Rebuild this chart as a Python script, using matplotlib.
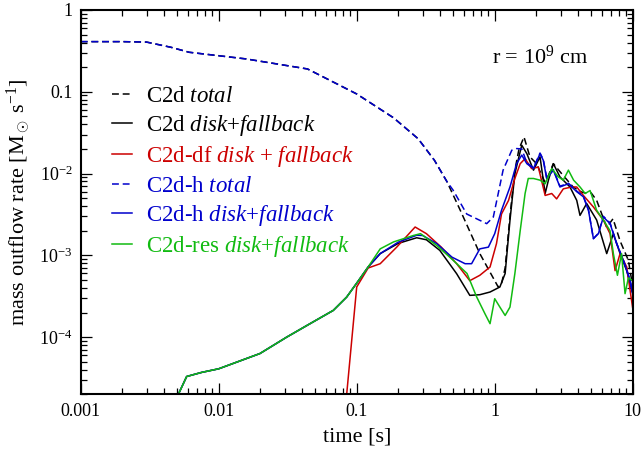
import numpy as np
import matplotlib
matplotlib.use("Agg")
import matplotlib.pyplot as plt
from matplotlib.ticker import FixedLocator, FixedFormatter, LogLocator, NullFormatter

# ---------------- fonts ----------------
plt.rcParams["font.family"] = ["Liberation Serif", "DejaVu Serif"]
plt.rcParams["mathtext.fontset"] = "custom"
plt.rcParams["mathtext.rm"] = "Liberation Serif"
plt.rcParams["mathtext.it"] = "Liberation Serif:italic"

# ---------------- data ----------------
# common early part of the disk+fallback curves (C2d, C2d-h, C2d-res)
t_early = [0.0050, 0.00586, 0.0075, 0.01, 0.0199, 0.0311, 0.0459, 0.0676, 0.0846, 0.103, 0.121]
y_early = [1.86e-5, 3.3e-5, 3.7e-5, 4.1e-5, 6.3e-5, 1.0e-4, 1.46e-4, 2.12e-4, 3.09e-4, 4.9e-4, 7.2e-4]

# C2d total
t_c2d_tot = [0.001, 0.002, 0.003, 0.0045, 0.0061, 0.0158, 0.044, 0.1, 0.185, 0.279, 0.366,
             0.45, 0.561, 0.78, 1.06, 1.12, 1.19, 1.29, 1.40, 1.50, 1.63, 1.80, 2.01, 2.30,
             2.45, 2.66, 3.05, 3.7, 4.2, 4.64, 5.0, 5.48, 6.48, 7.2, 8.1, 9.3, 9.84, 10.0]
y_c2d_tot = [0.41, 0.41, 0.405, 0.35, 0.304, 0.252, 0.19, 0.094, 0.048, 0.0266, 0.0145,
             0.0080, 0.0036, 0.00105, 0.00041, 0.00045, 0.0007, 0.003, 0.011, 0.02, 0.028, 0.016, 0.0132, 0.008,
             0.0095, 0.0132, 0.0100, 0.00685, 0.0060, 0.0057, 0.0058, 0.0047, 0.0022, 0.0028, 0.0015, 0.00087, 0.00049, 0.0004]

# C2d disk+fallback (late part)
t_c2d_df = [0.148, 0.2, 0.272, 0.32, 0.40, 0.53, 0.66, 0.78, 0.925, 1.09, 1.19, 1.29, 1.40,
            1.57, 1.71, 1.91, 2.13, 2.32, 2.45, 2.66, 2.97, 3.51, 3.93, 4.15, 4.64, 5.48,
            6.48, 7.24, 8.1, 9.05, 9.84, 10.0]
y_c2d_df = [1.05e-3, 1.4e-3, 1.64e-3, 1.55e-3, 1.15e-3, 5.96e-4, 3.24e-4, 3.3e-4, 3.56e-4, 4.1e-4,
            6.0e-4, 2.68e-3, 9.98e-3, 2.22e-2, 1.75e-2, 1.1e-2, 1.6e-2, 5.7e-3, 8.3e-3, 1.32e-2,
            9.1e-3, 6.85e-3, 4.7e-3, 3.08e-3, 4.3e-3, 2.7e-3, 1.05e-3, 1.84e-3, 1.05e-3, 6.5e-4,
            3.7e-4, 3.5e-4]

# C2d-df disk + fallback
t_df = [0.083, 0.0846, 0.1, 0.121, 0.148, 0.165, 0.195, 0.265, 0.32, 0.41, 0.53, 0.66, 0.78,
        0.925, 1.03, 1.12, 1.26, 1.40, 1.53, 1.66, 1.85, 2.07, 2.32, 2.59, 2.81, 3.14, 3.61,
        3.93, 4.39, 5.19, 6.13, 6.85, 7.45, 8.1, 9.05, 9.98]
y_df = [1.5e-5, 2.0e-5, 4.1e-4, 7.0e-4, 7.9e-4, 9.5e-4, 1.26e-3, 2.22e-3, 1.84e-3, 1.26e-3,
        7.9e-4, 4.9e-4, 5.7e-4, 7.2e-4, 1.39e-3, 3.2e-3, 4.7e-3, 8.7e-3, 0.0132, 0.0152,
        0.0115, 0.012, 0.0054, 0.0057, 0.0049, 0.0065, 0.00685, 0.00685, 0.0054, 0.0039,
        0.0027, 0.00184, 6.5e-4, 1.05e-3, 7.2e-4, 2.3e-4]

# C2d-h total
t_h_tot = [0.001, 0.002, 0.003, 0.0045, 0.0061, 0.0158, 0.044, 0.1, 0.185, 0.279, 0.366,
           0.45, 0.50, 0.627, 0.875, 0.977, 1.15, 1.33, 1.44, 1.57, 1.71, 1.91, 2.13, 2.25,
           2.38, 2.66, 2.97, 3.42, 3.93, 4.39, 4.78, 5.19, 5.64, 6.13, 6.85, 7.65, 8.55, 9.57, 9.98]
y_h_tot = [0.41, 0.41, 0.405, 0.35, 0.304, 0.252, 0.19, 0.094, 0.048, 0.0266, 0.0145,
           0.0080, 0.00625, 0.0032, 0.00244, 0.00294, 0.011, 0.0193, 0.0202, 0.020, 0.0135,
           0.0118, 0.0178, 0.0148, 0.0089, 0.0112, 0.0070, 0.0076, 0.0061, 0.0053, 0.0036,
           0.0016, 0.00186, 0.0030, 0.0025, 0.0014, 0.00088, 0.0005, 0.00035]

# C2d-h disk+fallback (late part)
t_h_df = [0.148, 0.2, 0.272, 0.30, 0.38, 0.49, 0.61, 0.68, 0.78, 0.90, 1.0, 1.12, 1.29, 1.44,
          1.57, 1.71, 1.91, 2.13, 2.25, 2.38, 2.66, 2.97, 3.42, 3.93, 4.39, 4.78, 5.19, 5.64,
          6.13, 6.85, 7.65, 8.55, 9.57, 9.98]
y_h_df = [1.05e-3, 1.45e-3, 1.76e-3, 1.75e-3, 1.39e-3, 9.5e-4, 7.9e-4, 7.9e-4, 1.2e-3, 1.26e-3,
          1.84e-3, 3.55e-3, 6.85e-3, 0.0132, 0.0168, 0.0132, 0.0115, 0.0175, 0.0145, 0.0087,
          0.011, 0.00685, 0.0075, 0.006, 0.0052, 0.00355, 0.0016, 0.00184, 0.00294, 0.00244,
          0.00139, 8.7e-4, 4.9e-4, 3.4e-4]

# C2d-res disk+fallback (late part)
t_res = [0.148, 0.185, 0.258, 0.29, 0.38, 0.50, 0.63, 0.74, 0.85, 0.925, 1.0, 1.09, 1.19,
         1.29, 1.40, 1.53, 1.66, 1.75, 1.91, 2.13, 2.32, 2.59, 2.89, 3.14, 3.42, 3.73, 4.15,
         4.52, 4.91, 5.48, 6.13, 6.85, 7.24, 7.75, 8.3, 8.8, 9.3, 9.98]
y_res = [1.2e-3, 1.46e-3, 1.75e-3, 1.84e-3, 1.32e-3, 8.7e-4, 6.0e-4, 3.1e-4, 1.93e-4, 1.46e-4,
         2.95e-4, 2.33e-4, 1.84e-4, 2.33e-4, 6.0e-4, 2.0e-3, 5.7e-3, 8.7e-3, 8.7e-3, 8.3e-3,
         7.5e-3, 0.0115, 0.0091, 0.0083, 0.011, 0.0083, 0.00685, 0.0057, 0.0062, 0.00355,
         0.0027, 0.002, 1.05e-3, 5.7e-4, 1.05e-3, 3.4e-4, 5.3e-4, 4.9e-4]

x_ticks = [0.001, 0.01, 0.1, 1, 10]
x_labels = ["0.001", "0.01", "0.1", "1", "10"]
y_ticks = [1e-4, 1e-3, 1e-2, 0.1, 1]
y_labels = ["$10^{-4}$", "$10^{-3}$", "$10^{-2}$", "0.1", "1"]

# ---------------- styles ----------------
c_black = "#000000"
c_red = "#cc0000"
c_blue = "#0000cc"
c_green = "#11bb11"
lw = 1.1
dash = (0, (4.5, 2.5))

# ---------------- figure ----------------
fig = plt.figure(figsize=(6.43, 4.53), dpi=100)
ax = fig.add_axes([0.1255, 0.1296, 0.8585, 0.8484])

ax.plot(t_c2d_tot, y_c2d_tot, color=c_black, lw=lw, ls=dash, label=r"C2d $\mathit{total}$")
ax.plot(t_early + t_c2d_df, y_early + y_c2d_df, color=c_black, lw=lw,
        label=r"C2d $\mathit{disk}$+$\mathit{fallback}$")
ax.plot(t_df, y_df, color=c_red, lw=lw, label=r"C2d-df $\mathit{disk}$ + $\mathit{fallback}$")
ax.plot(t_h_tot, y_h_tot, color=c_blue, lw=lw, ls=dash, label=r"C2d-h $\mathit{total}$")
ax.plot(t_early + t_h_df, y_early + y_h_df, color=c_blue, lw=lw,
        label=r"C2d-h $\mathit{disk}$+$\mathit{fallback}$")
ax.plot(t_early + t_res, y_early + y_res, color=c_green, lw=lw,
        label=r"C2d-res $\mathit{disk}$+$\mathit{fallback}$")

ax.set_xscale("log")
ax.set_yscale("log")
ax.set_xlim(0.001, 10)
ax.set_ylim(2e-5, 1)

ax.xaxis.set_major_locator(FixedLocator(x_ticks))
ax.xaxis.set_major_formatter(FixedFormatter(x_labels))
ax.yaxis.set_major_locator(FixedLocator(y_ticks))
ax.yaxis.set_major_formatter(FixedFormatter(y_labels))
for axis in (ax.xaxis, ax.yaxis):
    axis.set_minor_locator(LogLocator(base=10, subs=np.arange(2, 10), numticks=20))
    axis.set_minor_formatter(NullFormatter())

ax.tick_params(which="both", direction="in", top=True, right=True, width=0.9)
ax.tick_params(which="major", length=8, labelsize=13, pad=6)
ax.tick_params(which="minor", length=4)
for sp in ax.spines.values():
    sp.set_linewidth(1.5)

ax.set_xlabel("time [s]", fontsize=16, labelpad=6)
ax.set_ylabel(r"mass outflow rate [M$_\odot$ s$^{-1}$]", fontsize=16, labelpad=4)

ax.text(0.832, 0.878, r"r = 10$^9$ cm", transform=ax.transAxes,
        ha="center", va="center", fontsize=16)

fig.legend(loc="upper left", bbox_to_anchor=(111.7 / 643, 1 - 86 / 453),
           frameon=False, fontsize=16.5, handlelength=0.9, handletextpad=0.6,
           labelspacing=0.27, borderpad=0, borderaxespad=0, labelcolor="linecolor")

fig.savefig("out.png", dpi=100)
